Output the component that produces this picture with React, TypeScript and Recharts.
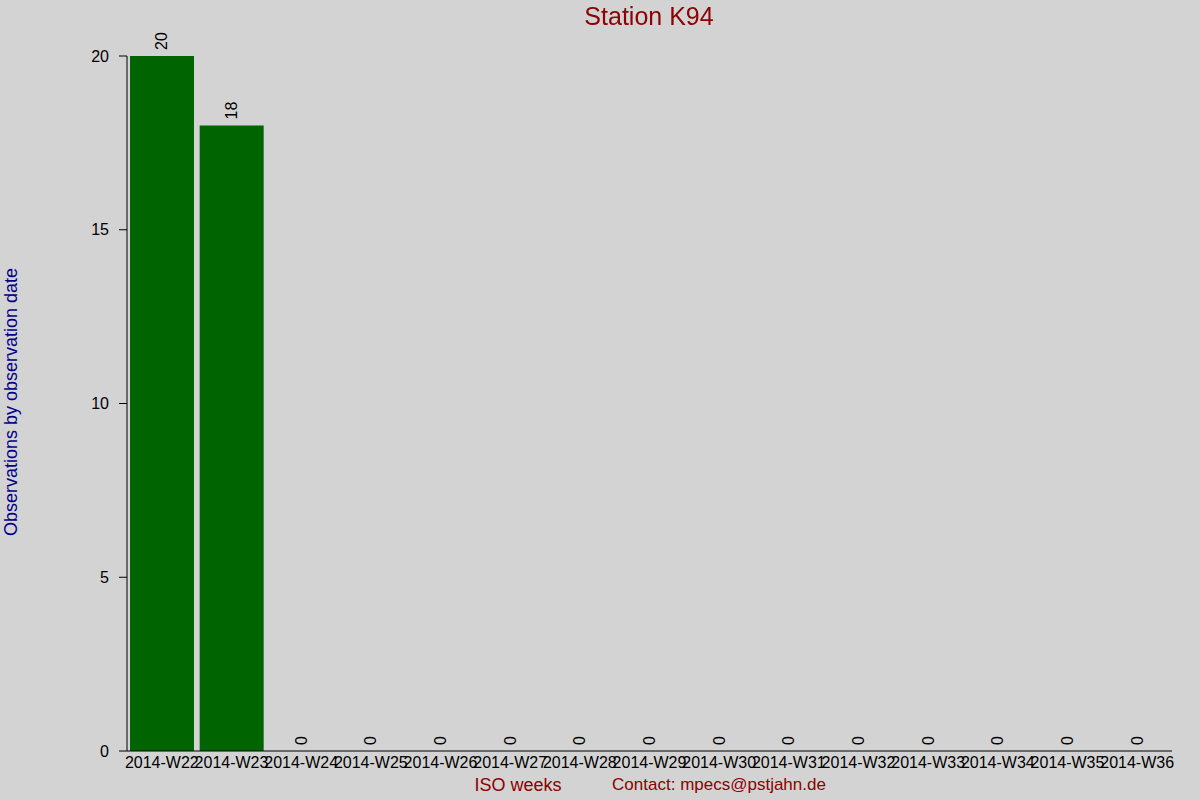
import { ComposedChart, Bar, Line, XAxis, YAxis, LabelList } from "recharts";

const weeks = [
  "2014-W22",
  "2014-W23",
  "2014-W24",
  "2014-W25",
  "2014-W26",
  "2014-W27",
  "2014-W28",
  "2014-W29",
  "2014-W30",
  "2014-W31",
  "2014-W32",
  "2014-W33",
  "2014-W34",
  "2014-W35",
  "2014-W36",
];
const observations = [20, 18, 0, 0, 0, 0, 0, 0, 0, 0, 0, 0, 0, 0, 0];
const yTicks = [0, 5, 10, 15, 20];

const data = weeks.map((week, i) => ({ week, count: observations[i] }));

const FONT = "'Liberation Sans', Arial, sans-serif";

// value written vertically above each bar (zero bars included)
const RotatedLabel = (props: any) => {
  const { x, y, value } = props;
  const top = y - 6;
  return (
    <text
      x={x}
      y={top}
      transform={`rotate(-90, ${x}, ${top})`}
      textAnchor="start"
      dominantBaseline="central"
      fontSize={16}
      fontFamily={FONT}
      fill="#000"
    >
      {value}
    </text>
  );
};

export default function App() {
  return (
    <div
      style={{
        position: "fixed",
        left: 0,
        top: 0,
        width: 1200,
        height: 800,
        background: "#d3d3d3",
        fontFamily: FONT,
      }}
    >
      <ComposedChart
        width={1200}
        height={800}
        data={data}
        margin={{ top: 56, right: 28, left: 0, bottom: 0 }}
        barCategoryGap={3}
      >
        <XAxis
          dataKey="week"
          interval={0}
          height={49}
          tickLine={false}
          tickSize={0}
          tickMargin={6}
          axisLine={{ stroke: "#000" }}
          tick={{ fill: "#000", fontSize: 16, fontFamily: FONT }}
        />
        <YAxis
          width={127}
          domain={[0, 20]}
          ticks={yTicks}
          tickSize={8}
          tickMargin={10}
          axisLine={{ stroke: "#000" }}
          tickLine={{ stroke: "#000" }}
          tick={{ fill: "#000", fontSize: 16, fontFamily: FONT }}
        />
        <Bar dataKey="count" fill="#006400" isAnimationActive={false} />
        <Line
          dataKey="count"
          stroke="none"
          dot={false}
          activeDot={false}
          isAnimationActive={false}
        >
          <LabelList dataKey="count" content={RotatedLabel} />
        </Line>
      </ComposedChart>

      <div
        style={{
          position: "absolute",
          left: 0,
          width: 1298,
          top: 2,
          textAlign: "center",
          fontSize: 25,
          color: "#8b0000",
        }}
      >
        Station K94
      </div>
      <div
        style={{
          position: "absolute",
          left: 11,
          top: 402,
          transform: "translate(-50%, -50%) rotate(-90deg)",
          whiteSpace: "nowrap",
          fontSize: 18,
          color: "#00008b",
        }}
      >
        Observations by observation date
      </div>
      <div
        style={{
          position: "absolute",
          left: 518,
          top: 775,
          transform: "translateX(-50%)",
          whiteSpace: "nowrap",
          fontSize: 18,
          color: "#8b0000",
        }}
      >
        ISO weeks
      </div>
      <div
        style={{
          position: "absolute",
          left: 719,
          top: 775,
          transform: "translateX(-50%)",
          whiteSpace: "nowrap",
          fontSize: 17,
          color: "#8b0000",
        }}
      >
        Contact: mpecs@pstjahn.de
      </div>
    </div>
  );
}
